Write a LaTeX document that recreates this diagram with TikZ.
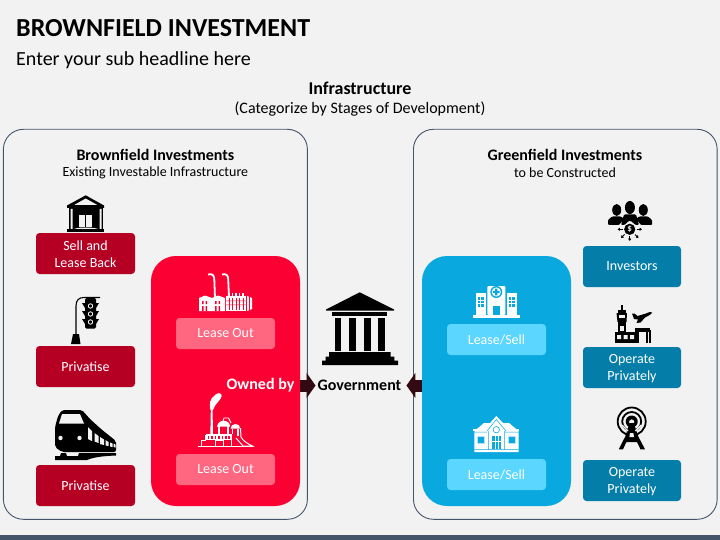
\documentclass[tikz,border=0pt]{standalone}
\usepackage{fontspec}
\setmainfont{Carlito}
\usetikzlibrary{arrows.meta}
\definecolor{bgc}{HTML}{F2F2F2}
\definecolor{edgec}{HTML}{44546A}
\definecolor{redbig}{HTML}{FA0033}
\definecolor{reddark}{HTML}{B50024}
\definecolor{redlight}{HTML}{FF6680}
\definecolor{bluebig}{HTML}{09A9DF}
\definecolor{bluedark}{HTML}{047EA8}
\definecolor{bluelight}{HTML}{5AD6FF}
\definecolor{arrowc}{HTML}{330A14}
\newcommand{\lowline}[1]{\raisebox{-1pt}[8pt][2pt]{#1}}
\tikzset{
  panelbox/.style={draw=edgec,line width=0.9pt,rounded corners=20pt,minimum width=304pt,minimum height=390pt,inner sep=0pt},
  bigbox/.style={rounded corners=25pt,minimum width=149pt,minimum height=250pt,inner sep=0pt},
  tile/.style={rounded corners=3.5pt,minimum width=99pt,text=white,inner xsep=0pt,inner ysep=0pt,align=center,font=\fontsize{14}{17}\selectfont},
  tall/.style={tile,minimum height=41pt},
  flat/.style={tile,minimum height=31pt},
  txt/.style={inner sep=0pt,align=center},
  conn/.style={arrowc,line width=12pt,-{Triangle[length=9pt,width=25pt]}}
}
\begin{document}
\begin{tikzpicture}[x=1pt,y=-1pt]
\fill[bgc] (0,0) rectangle (720,540);
\useasboundingbox (0,0) rectangle (720,540);
\fill[edgec] (0,535) rectangle (720,540);
% titles
\node[txt,anchor=base west,font=\fontsize{26}{30}\selectfont\bfseries] (title) at (16,37) {BROWNFIELD INVESTMENT};
\node[txt,anchor=base west,font=\fontsize{20}{24}\selectfont] (sub) at (16,66) {Enter your sub headline here};
\node[txt,font=\fontsize{18}{21}\selectfont\bfseries] (infra) at (360,88) {Infrastructure};
\node[txt,font=\fontsize{16}{19}\selectfont] (cat) at (360,109) {(Categorize by Stages of Development)};
% panels
\node[panelbox] (lp) at (155.4,324.3) {};
\node[panelbox,minimum width=303.7pt] (rp) at (565.3,324.3) {};
\node[txt,font=\fontsize{16}{19}\selectfont\bfseries] (lh) at (155.4,155) {Brownfield Investments};
\node[txt,font=\fontsize{14}{17}\selectfont] (ls) at (155.4,172.5) {Existing Investable Infrastructure};
\node[txt,font=\fontsize{16}{19}\selectfont\bfseries] (rh) at (565,155) {Greenfield Investments};
\node[txt,font=\fontsize{14}{17}\selectfont] (rs) at (565,172.5) {to be Constructed};
% big blocks
\node[bigbox,fill=redbig] (red) at (225.5,381) {};
\node[bigbox,fill=bluebig] (blue) at (496.5,381) {};
% tiles
\node[tall,fill=reddark] (t1) at (85.5,253.5) {\rule{0pt}{11.5pt}Sell and\\Lease Back};
\node[tall,fill=reddark] (t2) at (85.5,366.5) {Privatise};
\node[tall,fill=reddark] (t3) at (85.5,485.5) {Privatise};
\node[flat,fill=redlight] (lo1) at (225.5,333.5) {\lowline{Lease Out}};
\node[flat,fill=redlight] (lo2) at (225.5,469.5) {\lowline{Lease Out}};
\node[flat,fill=bluelight] (ls1) at (496.5,339.5) {Lease/Sell};
\node[flat,fill=bluelight] (ls2) at (496.5,474.5) {Lease/Sell};
\node[tall,fill=bluedark,minimum width=98pt] (i1) at (632,266.5) {\lowline{Investors}};
\node[tall,fill=bluedark,minimum width=98pt] (i2) at (632,367.5) {\rule{0pt}{11.5pt}Operate\\Privately};
\node[tall,fill=bluedark,minimum width=98pt] (i3) at (632,480.5) {\rule{0pt}{11.5pt}Operate\\Privately};
% centre labels and connectors
\node[txt,text=white,font=\fontsize{16}{19}\selectfont\bfseries] (owned) at (260.5,385.5) {Owned by};
\node[txt,inner xsep=2pt,font=\fontsize{16}{19}\selectfont\bfseries] (gov) at (359.5,385.5) {Government};
\draw[conn] (red.east |- gov.west) -- (gov.west);
\draw[conn,shorten >=3pt] (blue.west |- gov.east) -- (gov.east);
% government temple icon
\fill (359.7,292.3) -- (394,309.5) -- (394,310.7) -- (326,310.7) -- (326,309.5) -- cycle;
\fill (332.3,312) rectangle (387.3,316);
\foreach \a/\b in {334.7/341.3,349.3/356,363.7/370.7,378.3/384.7}{\fill (\a,317.5) rectangle (\b,350.7);}
\fill (329,352) rectangle (390.7,357) (325.7,356.7) rectangle (394.3,361) (322,360.7) rectangle (398,365);
% bank icon
\fill (85.7,195.3) -- (104,205.5) -- (104,208) -- (67,208) -- (67,205.5) -- cycle;
\fill[bgc] (85.7,198.5) -- (97,204.8) -- (74.5,204.8) -- cycle;
\fill (69,208) rectangle (103,229);
\fill[bgc] (70.5,209) rectangle (72.5,229) (99.5,209) rectangle (101.5,229);
\fill[bgc] (79,215) rectangle (92,227);
\fill (85,215) rectangle (86,227);
\fill (78,213) rectangle (93,215);
\fill[bgc] (74,229) .. controls (78,227) and (93,227) .. (98,229) -- cycle;
\fill (67,229) rectangle (104,232);
% traffic light icon
\draw[line width=1.1pt] (76,338) -- (76,306) .. controls (76,300) and (79,297.5) .. (84,297.5) -- (100,297.5);
\fill (73,334) -- (79,334) -- (80.5,344) -- (71,344) -- cycle;
\fill[rounded corners=1.5pt] (85,298) rectangle (96,328.5);
\fill (82,303) -- (85,303) -- (85,308) -- cycle (99,303) -- (96,303) -- (96,308) -- cycle
      (82,311) -- (85,311) -- (85,316) -- cycle (99,311) -- (96,311) -- (96,316) -- cycle
      (82,319) -- (85,319) -- (85,324) -- cycle (99,319) -- (96,319) -- (96,324) -- cycle;
\foreach \yy in {306,314,322}{\draw[bgc,line width=0.9pt] (90.5,\yy) circle (2.2);}
% train icon
\fill[rounded corners=2pt] (62,410) -- (82,410) -- (90,419) -- (101,429) -- (116,441) -- (116,452) -- (62,452) -- (55,447) -- (55,427) -- (58,416) -- cycle;
\fill[bgc] (59,423.5) -- (62,414) -- (80,414) -- (84,423.5) -- cycle;
\fill[bgc] (60.5,438) circle (2.2) (79.5,438) circle (2.2);
\fill[bgc] (88,427) -- (92,431) -- (92,441) -- (88,439) -- cycle
 (94.5,433) -- (98.5,436) -- (98.5,443) -- (94.5,441.5) -- cycle
 (100,437) -- (104,439.5) -- (104,445) -- (100,444) -- cycle
 (105.5,440) -- (108.5,442) -- (108.5,446) -- (105.5,445.5) -- cycle
 (110,442.5) -- (112.5,443.5) -- (112.5,447) -- (110,446.5) -- cycle
 (113.5,443.5) -- (115.5,444.5) -- (115.5,447.5) -- (113.5,447) -- cycle;
\fill (55,456) -- (60,456) -- (61,453) -- (66,453) -- (67,456) -- (78,456) -- (79,453) -- (116,453) -- (116,455.5) .. controls (104,456) and (94,457) .. (87,460) -- (55,460) -- cycle;
% factory 1 (white)
\begin{scope}[white]
\draw[line width=1.8pt] (208,274.5) .. controls (212,273.5) and (214,275) .. (214.3,279) -- (215,298);
\draw[line width=1.8pt] (222,274.5) .. controls (226,273.5) and (228,275) .. (228.2,279) -- (229,298);
\fill (199,298) -- (205,295.5) -- (212,298) -- (212,311) -- (199,311) -- cycle;
\fill (212,298) -- (218,295.5) -- (225,298) -- (225,311) -- (212,311) -- cycle;
\fill (226,295.5) -- (246,295.5) -- (246,311) -- (226,311) -- cycle;
\fill (247,296) -- (252,298) -- (252,309) -- (247,311) -- cycle;
\foreach \q in {229,232.5,236,239.5,243}{\fill (\q-0.6,293) rectangle (\q+0.6,296);}
\end{scope}
\foreach \xx in {202,205.5,215,218.5}{\fill[redbig] (\xx,301) rectangle (\xx+1.5,304) (\xx,306) rectangle (\xx+1.5,311);}
\foreach \xx in {229,232.5,236,239.5,243}{\fill[redbig] (\xx-0.5,298) rectangle (\xx+0.5,310);}
\fill[redbig] (226,300.5) rectangle (246,301.2) (226,304.5) rectangle (246,305.2);
\fill[redbig] (248.5,297) rectangle (249.2,310);
% factory 2 (white)
\begin{scope}[white]
\fill (210.5,410) .. controls (209,404) and (210,399) .. (214,396) .. controls (217,392) and (222,392.5) .. (221.7,396) .. controls (221.5,400) and (215,403) .. (213,410) -- cycle;
\fill (210.8,410) -- (212.6,410) -- (213,437) -- (210.3,437) -- cycle;
\draw[line width=1.1pt] (198,446.3) -- (253,446.3);
\draw[line width=0.9pt] (201.7,446) -- (201.7,440) -- (205.5,440) -- (205.5,435) (215,446) -- (215,440.5) -- (223,440.5) -- (223,446) (231,434.5) -- (231,446);
\fill (205.5,434) rectangle (231.5,440);
\foreach \xx in {207.5,211,214.5,218,221.5,225,228}{\fill[redbig] (\xx,436) rectangle (\xx+1.7,438.5);}
\draw[line width=1.1pt] (219,434) -- (219,426) (228,434) -- (228,426);
\fill (216.8,426.5) -- (218.5,423) .. controls (221,420) and (226,420) .. (229,423) -- (230.2,426.5) -- cycle;
\draw[line width=0.9pt] (223,421) -- (224,418) -- (228.5,418) -- (231,423);
\draw[line width=1.1pt] (232.5,434) -- (232.5,428.5) (238,436) -- (238,428.5);
\fill (230.5,428.7) -- (232,425.3) .. controls (234,423.5) and (237,423.5) .. (239,425.3) -- (240,428.7) -- cycle;
\draw[line width=1pt] (240.5,428) -- (241,437) .. controls (243,441) and (248,444) .. (252.5,446) -- (243,446) -- (236,438);
\end{scope}
% investors icon
\begin{scope}
\fill (616.7,210) ellipse (4.5 and 6);
\fill (643.3,210) ellipse (4.5 and 6);
\fill (629.9,207.5) ellipse (5 and 6.5);
\fill[rounded corners=1pt] (608,225) -- (608,220) -- (612,216.5) -- (621,216.5) -- (624,219) -- (619,225) -- cycle;
\fill[rounded corners=1pt] (652,225) -- (652,220) -- (648,216.5) -- (639,216.5) -- (636,219) -- (641,225) -- cycle;
\fill[rounded corners=1pt] (621,225) -- (624,214.5) -- (636,214.5) -- (639,225) -- (635.5,225) -- (631,221) -- (628.5,221) -- (624.5,225) -- cycle;
\fill (629.7,229.3) circle (5.6);
\node[txt,text=bgc,font=\fontsize{9}{9}\selectfont\bfseries] (dollar) at (629.7,229.3) {\$};
\draw[line width=1pt,-{Latex[length=2.4pt,width=3.6pt]}] (622.5,229.3) -- (617.5,229.3);
\draw[line width=1pt,-{Latex[length=2.4pt,width=3.6pt]}] (637,229.3) -- (642,229.3);
\draw[line width=1pt,-{Latex[length=2.4pt,width=3.6pt]}] (629.7,236) -- (629.7,241);
\draw[line width=1pt,-{Latex[length=2.4pt,width=3.6pt]}] (624.5,234.5) -- (621,238);
\draw[line width=1pt,-{Latex[length=2.4pt,width=3.6pt]}] (635,234.5) -- (638.5,238);
\end{scope}
% hospital icon
\begin{scope}[white]
\fill (473,315) rectangle (520,318);
\fill (476,293.3) rectangle (486,315);
\fill (507,293.3) rectangle (517,315);
\fill[rounded corners=1pt] (487.3,286) rectangle (505.3,315);
\end{scope}
\fill[bluebig] (496.3,292) circle (6);
\fill[white] (496.3,292) circle (4.6);
\fill[bluebig] (495.2,288.7) rectangle (497.4,295.3) (493,290.9) rectangle (499.6,293.1);
\fill[bluebig] (493,306) rectangle (500.3,315);
\foreach \xx in {478,481.3,509,512.3}{\foreach \yy in {297,300.7,304.4}{\fill[bluebig] (\xx,\yy) rectangle (\xx+2.2,\yy+2.6);}}
% house icon
\begin{scope}[white]
\fill (474.5,431) -- (484,423) -- (490,423) -- (496.3,416) -- (503,423) -- (509,423) -- (518.5,431) -- (518.7,452) -- (474.3,452) -- cycle;
\fill (473.3,429) rectangle (519.3,431);
\end{scope}
\draw[bluebig,line width=0.5pt] (487,431) -- (496.3,419.5) -- (506,431) (488.5,431) -- (488.5,449.5) (504.5,431) -- (504.5,449.5) (474.3,449.5) -- (518.7,449.5) (474,432) -- (487,432) (505,432) -- (519,432);
\draw[bluebig,line width=0.6pt] (496.3,429.7) circle (3.2);
\fill[bluebig] (477.5,436.5) rectangle (484.5,443.5) (508.5,436.5) rectangle (515.5,443.5);
\draw[white!70!bluebig,line width=0.4pt] (477.5,436.5) rectangle (484.5,443.5) (508.5,436.5) rectangle (515.5,443.5);
\fill[bluebig] (492.3,436) rectangle (500.7,449.3);
\draw[white,line width=0.6pt] (495.1,436) -- (495.1,449.3) (497.9,436) -- (497.9,449.3) (492.3,441) -- (500.7,441);
% airport icon
\fill (621,305) rectangle (622.5,311);
\fill (618,310) rectangle (626,313);
\fill (616.5,313) -- (627,313) -- (626.5,322) -- (617.5,322) -- cycle;
\fill[bgc] (618.7,315) rectangle (624.7,318);
\fill (617.5,321) rectangle (626,343);
\fill[bgc] (620,325.5) rectangle (624,331);
\fill (615,332) rectangle (639,343);
\fill (635,328) rectangle (650,332);
\fill (646,330) rectangle (651,343);
\fill[bgc] (648,332) rectangle (648.9,343);
\fill[bgc] (617,335) rectangle (621,339) (623.5,335) rectangle (627.5,339) (630,335) rectangle (634,339);
\fill (632,313.5) -- (634.5,313.5) -- (637.5,316) -- (646,313.5) .. controls (649,312) and (652,311.5) .. (652,312.5) .. controls (652,314) and (648,316) .. (645,317.5) -- (640.5,322.5) -- (636.5,323) -- (638,319.5) -- (634,319) -- cycle;
% antenna icon
\draw[line width=1.8pt] (631.7,421.5) circle (14);
\draw[line width=1.8pt] (631.7,421.5) circle (9.5);
\fill (631.7,421.5) circle (6);
\fill[bgc] (631.7,422) circle (2.6);
\fill (629.5,423) -- (633.9,423) -- (638,436) -- (645,449.3) -- (640.5,449.3) -- (637,442) -- (626.4,442) -- (623,449.3) -- (618.8,449.3) -- (625.5,436) -- cycle;
\fill[bgc] (630,433) -- (633.4,433) -- (634,437) -- (629.4,437) -- cycle;
\draw[bgc,line width=1.3pt] (622,425) -- (628,431) (641.4,425) -- (635.4,431);
\end{tikzpicture}
\end{document}
